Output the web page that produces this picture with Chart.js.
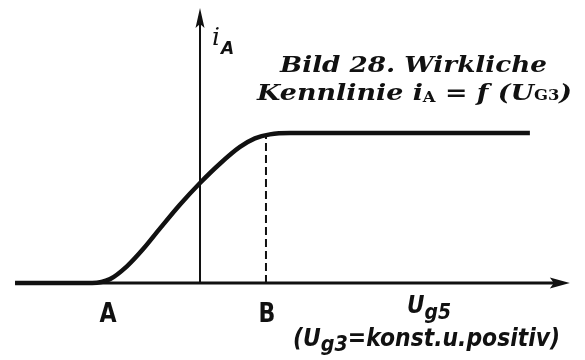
<!DOCTYPE html>
<html>
<head>
<meta charset="utf-8">
<script src="https://cdn.jsdelivr.net/npm/chart.js@4.4.1/dist/chart.umd.min.js"></script>
<style>
  html, body { margin: 0; padding: 0; background: #fff; }
  #wrap { width: 585px; height: 360px; position: relative; }
</style>
</head>
<body>
<div id="wrap"><canvas id="kennlinie"></canvas></div>
<script>
// Kennlinie iA = f(Ug5), Ug3 konstant und positiv
const ugValues = [-5.69, -4.31, -3.32, -2.77, -2.25, -1.75, -1.23, -0.62, 0, 0.62, 1.23, 1.69, 2.15, 2.77, 4.0, 10.15];
const iaValues = [0, 0, 0, 0.26, 1.11, 2.26, 3.64, 5.22, 6.67, 7.97, 9.07, 9.64, 9.91, 10, 10, 10];

// Punkte A und B auf der Ug5-Achse
const markNames = ['A', 'B'];
const markValues = [-2.86, 2.03];
const markCurrent = [0, 9.85];   // Hoehe der gestrichelten Linie bei B

// Achsenenden
const xAxisRange = [-5.69, 11.38];
const yAxisRange = [0, 18.33];

const INK = '#111';

const axesPlugin = {
  id: 'axes',
  beforeDatasetsDraw(chart) {
    const { ctx, scales: { x, y } } = chart;
    const x0 = x.getPixelForValue(0);
    const y0 = y.getPixelForValue(0);
    const xl = x.getPixelForValue(xAxisRange[0]);
    const xr = x.getPixelForValue(xAxisRange[1]);
    const yt = y.getPixelForValue(yAxisRange[1]);
    ctx.save();
    ctx.strokeStyle = INK;
    ctx.fillStyle = INK;
    // x-Achse
    ctx.lineWidth = 3;
    ctx.beginPath();
    ctx.moveTo(xl, y0);
    ctx.lineTo(xr - 10, y0);
    ctx.stroke();
    ctx.beginPath();
    ctx.moveTo(xr, y0);
    ctx.lineTo(xr - 20, y0 - 5.5);
    ctx.lineTo(xr - 16, y0);
    ctx.lineTo(xr - 20, y0 + 5.5);
    ctx.closePath();
    ctx.fill();
    // y-Achse
    ctx.lineWidth = 2;
    ctx.beginPath();
    ctx.moveTo(x0, y0);
    ctx.lineTo(x0, yt + 10);
    ctx.stroke();
    ctx.beginPath();
    ctx.moveTo(x0, yt);
    ctx.lineTo(x0 - 4.5, yt + 20);
    ctx.lineTo(x0, yt + 16);
    ctx.lineTo(x0 + 4.5, yt + 20);
    ctx.closePath();
    ctx.fill();
    ctx.restore();
  },
  afterDraw(chart) {
    const { ctx, scales: { x, y } } = chart;
    const x0 = x.getPixelForValue(0);
    const y0 = y.getPixelForValue(0);
    ctx.save();
    ctx.fillStyle = INK;
    ctx.textBaseline = 'alphabetic';

    const sans = '"DejaVu Sans", sans-serif';

    // A, B
    ctx.font = 'bold 26px ' + sans;
    ctx.textAlign = 'center';
    markNames.forEach((n, i) => {
      ctx.save();
      ctx.translate(x.getPixelForValue(markValues[i]) + 1, y0 + 39);
      ctx.scale(0.85, 1);
      ctx.fillText(n, 0, 0);
      ctx.restore();
    });

    // Achsbeschriftung iA
    ctx.textAlign = 'left';
    ctx.font = 'italic 25px "DejaVu Serif", serif';
    ctx.fillText('i', x0 + 12, 45);
    ctx.font = 'bold italic 17px ' + sans;
    ctx.fillText('A', x0 + 21, 54);

    // gestauchte Kursivschrift, Stueck fuer Stueck
    const runs = (parts, left, base, width) => {
      let total = 0;
      parts.forEach(([t, f]) => { ctx.font = f; total += ctx.measureText(t).width; });
      const k = width / total;
      ctx.save();
      ctx.translate(left, base);
      ctx.scale(k, 1);
      let px = 0;
      parts.forEach(([t, f, dy]) => {
        ctx.font = f;
        ctx.fillText(t, px, dy);
        px += ctx.measureText(t).width;
      });
      ctx.restore();
    };
    const big = 'bold italic 24px ' + sans;
    const sub = 'bold italic 21px ' + sans;

    // Achsbeschriftung Ug5
    runs([['U', big, 0], ['g5', sub, 6]], 407, 313, 44);

    // (Ug3=konst.u.positiv)
    runs([['(U', big, 0], ['g3', sub, 5], ['=konst.u.positiv)', big, 0]], 293, 346, 267);

    // Bildunterschrift
    const serif = '"DejaVu Serif", serif';
    const bigF = 'bold italic 23px ' + serif;
    const smallF = 'bold 14px ' + serif;
    runs([['Bild 28. Wirkliche', bigF, 0]], 280, 72, 267);
    runs([
      ['Kennlinie i', bigF, 0],
      ['A', smallF, 2],
      [' = ', bigF, 0],
      ['f', bigF, 0],
      [' (U', bigF, 0],
      ['G3', smallF, 0],
      [')', bigF, 0]
    ], 257, 100, 315);
    ctx.restore();
  }
};

new Chart(document.getElementById('kennlinie'), {
  type: 'line',
  data: {
    datasets: [
      {
        data: ugValues.map((u, i) => ({ x: u, y: iaValues[i] })),
        borderColor: INK,
        borderWidth: 4.5,
        pointRadius: 0,
        cubicInterpolationMode: 'monotone',
        fill: false
      },
      {
        data: markCurrent.map(v => ({ x: markValues[1], y: v })),
        borderColor: INK,
        borderWidth: 2,
        borderDash: [8, 4],
        pointRadius: 0,
        fill: false
      }
    ]
  },
  options: {
    responsive: true,
    maintainAspectRatio: false,
    animation: false,
    layout: { padding: 0 },
    plugins: { legend: { display: false }, tooltip: { enabled: false } },
    scales: {
      x: { type: 'linear', min: -6.154, max: 11.846, display: false },
      y: { type: 'linear', min: -5.133, max: 18.867, display: false }
    }
  },
  plugins: [axesPlugin]
});
</script>
</body>
</html>
